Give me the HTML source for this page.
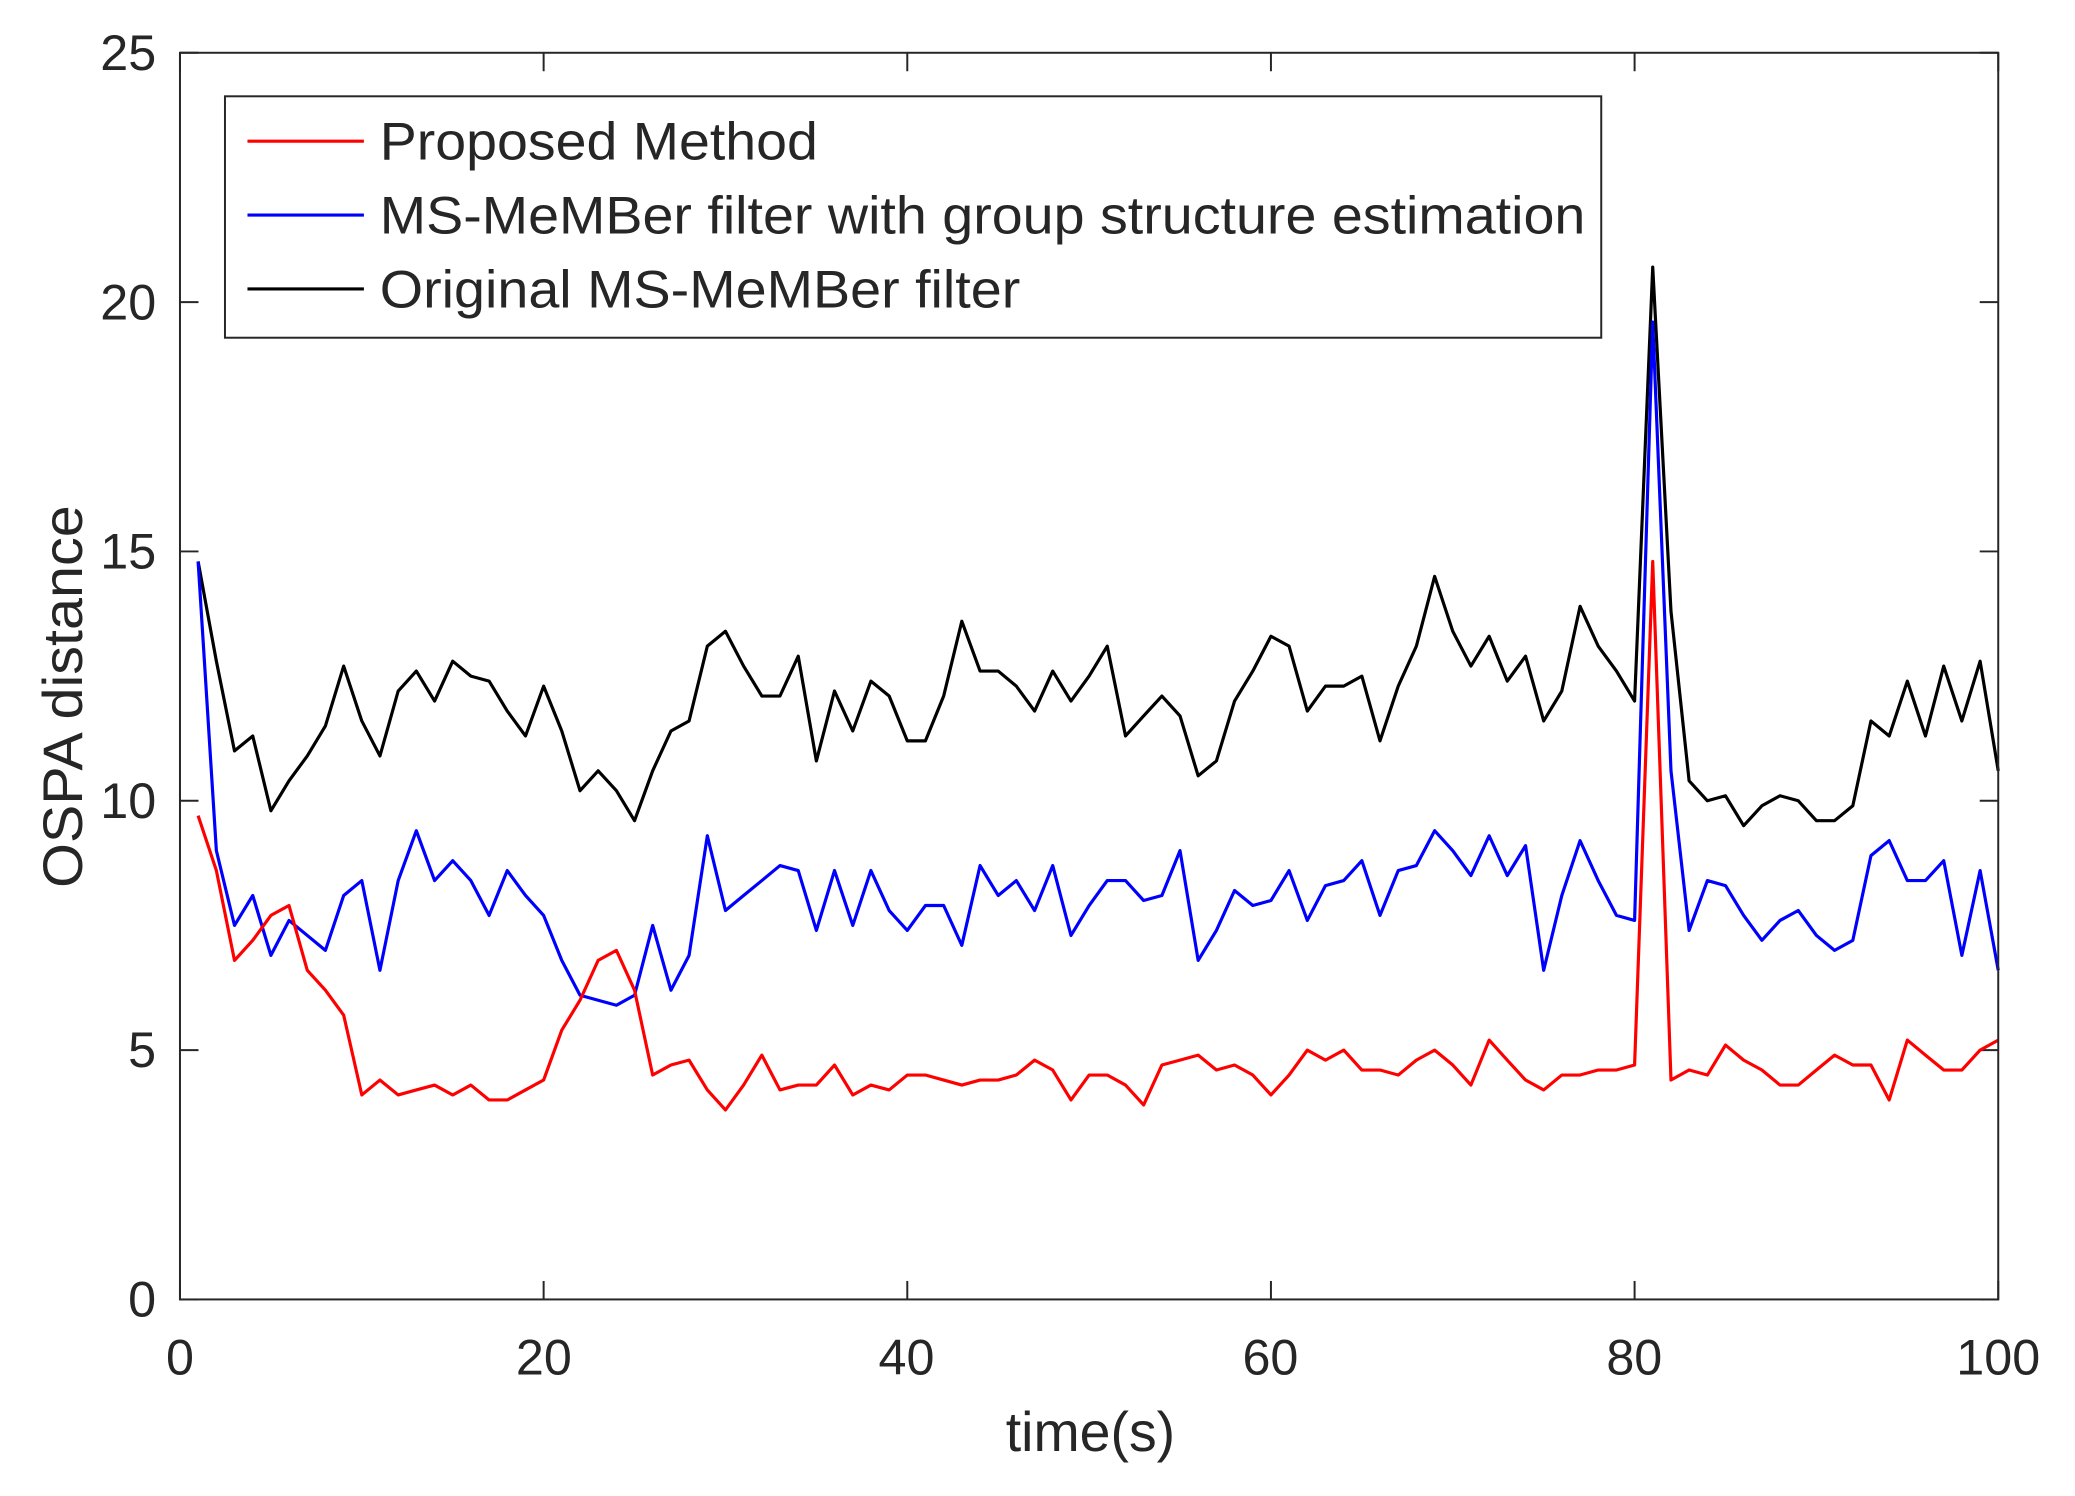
<!DOCTYPE html>
<html><head><meta charset="utf-8"><style>
html,body{margin:0;padding:0;background:#fff}
svg{display:block}
text{font-family:"Liberation Sans",Arial,sans-serif;fill:#262626}
</style></head><body>
<svg id="s" width="2075" height="1496" viewBox="0 0 1568 1134" preserveAspectRatio="none" xmlns="http://www.w3.org/2000/svg">
<rect x="0" y="0" width="1568" height="1134" fill="#fff"/>
<g id="ticks" stroke="#262626" stroke-width="1.5"></g>
<g id="series" fill="none" stroke-width="2.4" stroke-linejoin="round"></g>
<rect x="136" y="40" width="1374" height="945" fill="none" stroke="#262626" stroke-width="1.5"/>
<g font-size="38" text-anchor="end">
<text x="118" y="998">0</text><text x="118" y="809">5</text><text x="118" y="620">10</text>
<text x="118" y="431">15</text><text x="118" y="242">20</text><text x="118" y="53">25</text>
</g>
<g font-size="38" text-anchor="middle">
<text x="136" y="1042">0</text><text x="411" y="1042">20</text><text x="685" y="1042">40</text>
<text x="960" y="1042">60</text><text x="1235" y="1042">80</text><text x="1510" y="1042">100</text>
</g>
<g font-size="42" text-anchor="middle">
<text x="824" y="1100" textLength="128" lengthAdjust="spacingAndGlyphs">time(s)</text>
<text transform="translate(62,528) rotate(-90)" textLength="290" lengthAdjust="spacingAndGlyphs">OSPA distance</text>
</g>
<rect x="170" y="73" width="1040" height="183" fill="#fff" stroke="#262626" stroke-width="1.5"/>
<line x1="187" y1="107" x2="275" y2="107" stroke="#ff0000" stroke-width="2.4"/>
<line x1="187" y1="163" x2="275" y2="163" stroke="#0000ff" stroke-width="2.4"/>
<line x1="187" y1="219" x2="275" y2="219" stroke="#000" stroke-width="2.4"/>
<g font-size="40">
<text x="287" y="121" textLength="331" lengthAdjust="spacingAndGlyphs">Proposed Method</text>
<text x="287" y="177" textLength="911" lengthAdjust="spacingAndGlyphs">MS-MeMBer filter with group structure estimation</text>
<text x="287" y="233" textLength="484" lengthAdjust="spacingAndGlyphs">Original MS-MeMBer filter</text>
</g>
</svg>
<script>
var K=[14.8,12.8,11.0,11.3,9.8,10.4,10.9,11.5,12.7,11.6,10.9,12.2,12.6,12.0,12.8,12.5,12.4,11.8,11.3,12.3,11.4,10.2,10.6,10.2,9.6,10.6,11.4,11.6,13.1,13.4,12.7,12.1,12.1,12.9,10.8,12.2,11.4,12.4,12.1,11.2,11.2,12.1,13.6,12.6,12.6,12.3,11.8,12.6,12.0,12.5,13.1,11.3,11.7,12.1,11.7,10.5,10.8,12.0,12.6,13.3,13.1,11.8,12.3,12.3,12.5,11.2,12.3,13.1,14.5,13.4,12.7,13.3,12.4,12.9,11.6,12.2,13.9,13.1,12.6,12.0,20.7,13.8,10.4,10.0,10.1,9.5,9.9,10.1,10.0,9.6,9.6,9.9,11.6,11.3,12.4,11.3,12.7,11.6,12.8,10.6];
var B=[14.8,9.0,7.5,8.1,6.9,7.6,7.3,7.0,8.1,8.4,6.6,8.4,9.4,8.4,8.8,8.4,7.7,8.6,8.1,7.7,6.8,6.1,6.0,5.9,6.1,7.5,6.2,6.9,9.3,7.8,8.1,8.4,8.7,8.6,7.4,8.6,7.5,8.6,7.8,7.4,7.9,7.9,7.1,8.7,8.1,8.4,7.8,8.7,7.3,7.9,8.4,8.4,8.0,8.1,9.0,6.8,7.4,8.2,7.9,8.0,8.6,7.6,8.3,8.4,8.8,7.7,8.6,8.7,9.4,9.0,8.5,9.3,8.5,9.1,6.6,8.1,9.2,8.4,7.7,7.6,19.6,10.6,7.4,8.4,8.3,7.7,7.2,7.6,7.8,7.3,7.0,7.2,8.9,9.2,8.4,8.4,8.8,6.9,8.6,6.6];
var R=[9.7,8.6,6.8,7.2,7.7,7.9,6.6,6.2,5.7,4.1,4.4,4.1,4.2,4.3,4.1,4.3,4.0,4.0,4.2,4.4,5.4,6.0,6.8,7.0,6.2,4.5,4.7,4.8,4.2,3.8,4.3,4.9,4.2,4.3,4.3,4.7,4.1,4.3,4.2,4.5,4.5,4.4,4.3,4.4,4.4,4.5,4.8,4.6,4.0,4.5,4.5,4.3,3.9,4.7,4.8,4.9,4.6,4.7,4.5,4.1,4.5,5.0,4.8,5.0,4.6,4.6,4.5,4.8,5.0,4.7,4.3,5.2,4.8,4.4,4.2,4.5,4.5,4.6,4.6,4.7,14.8,4.4,4.6,4.5,5.1,4.8,4.6,4.3,4.3,4.6,4.9,4.7,4.7,4.0,5.2,4.9,4.6,4.6,5.0,5.2];
var NS="http://www.w3.org/2000/svg";
function X(t){return 136+t*13.74}function Y(v){return 985-v*37.8}
var g=document.getElementById("series");
[[K,"#000"],[B,"#0000ff"],[R,"#ff0000"]].forEach(function(s){
 var p=document.createElementNS(NS,"polyline");
 p.setAttribute("points",s[0].map(function(v,i){return X(i+1).toFixed(1)+","+Y(v).toFixed(1)}).join(" "));
 p.setAttribute("stroke",s[1]);g.appendChild(p);});
var tk=document.getElementById("ticks");
function L(a,b,c,d){var l=document.createElementNS(NS,"line");l.setAttribute("x1",a);l.setAttribute("y1",b);l.setAttribute("x2",c);l.setAttribute("y2",d);tk.appendChild(l);}
for(var i=0;i<=5;i++){var x=X(i*20);L(x,985,x,971);L(x,40,x,54);var y=Y(i*5);L(136,y,150,y);L(1510,y,1496,y);}
</script>
</body></html>
